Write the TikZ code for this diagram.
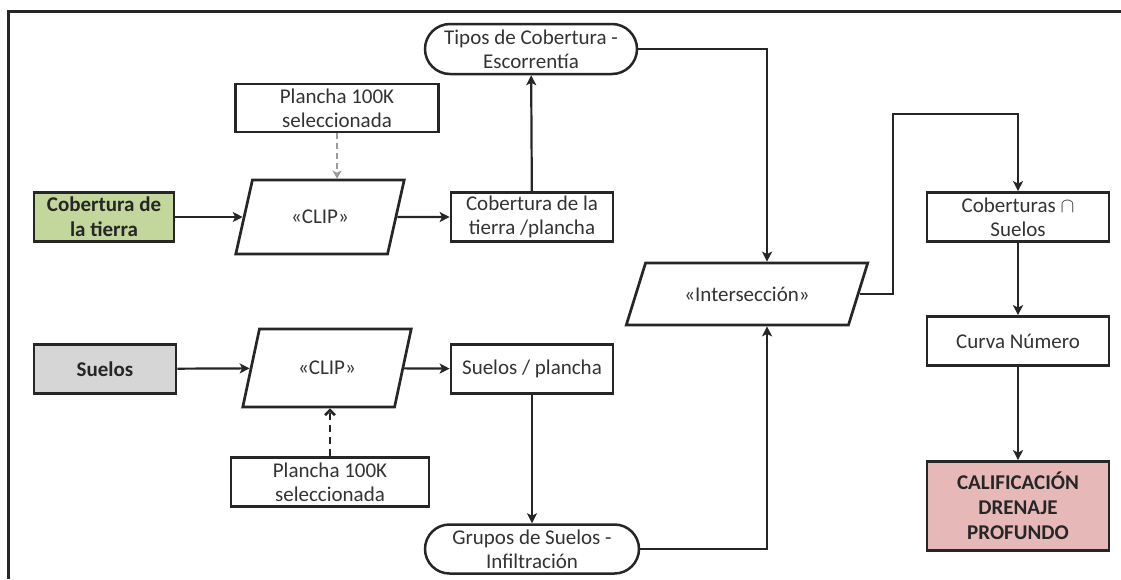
\documentclass[tikz,border=0pt]{standalone}
\usepackage{fontspec}
\setmainfont{Carlito}
\usetikzlibrary{shapes.geometric,shapes.misc,arrows.meta}

\definecolor{edge}{HTML}{262626}
\definecolor{txt}{HTML}{333333}
\definecolor{landfill}{HTML}{C3D69B}
\definecolor{soilfill}{HTML}{D6D6D6}
\definecolor{resultfill}{HTML}{E6B9B8}
\definecolor{hint}{HTML}{9C9C9C}

\begin{document}
\begin{tikzpicture}[x=1pt,y=-1pt,
  every node/.style={font=\fontsize{21}{24}\selectfont, text=txt, align=center, inner sep=1pt},
  proc/.style={rectangle, draw=edge, line width=2.7pt, fill=white},
  strong/.style={font=\fontsize{21}{25}\selectfont\bfseries, text=black!85},
  io/.style={trapezium, trapezium left angle=65, trapezium right angle=115,
    trapezium stretches=true, draw=edge, line width=2.7pt, fill=white},
  term/.style={rounded rectangle, draw=edge, line width=2.5pt, fill=white},
  flow/.style={draw=edge, line width=2.2pt, -{Stealth[length=10pt,width=10pt,inset=2.5pt]}},
  hintflow/.style={draw=hint, line width=2pt, dash pattern=on 6pt off 4pt,
    -{Stealth[length=8pt,width=9pt,inset=2pt]}},
  keyflow/.style={draw=edge, line width=2.6pt, dash pattern=on 7pt off 5pt,
    -{Straight Barb[length=5pt,width=10pt]}}
]
\useasboundingbox (0,0) rectangle (1121,579);

% page frame (top and left rules)
\draw[edge, line width=3pt] (8,579) -- (8,11) -- (1121,11);

% land-cover branch
\node[term, minimum width=214pt, minimum height=50pt] (tipos) at (531,49)
  {Tipos de Cobertura -\\Escorrentía};
\node[proc, minimum width=203pt, minimum height=48pt] (plan1) at (337,108)
  {Plancha 100K\\seleccionada};
\node[proc, strong, fill=landfill, minimum width=140pt, minimum height=49pt] (cob) at (104,217)
  {Cobertura de\\la tierra};
\node[io, minimum width=169pt, minimum height=74pt] (clip1) at (320,217) {«CLIP»};
\node[proc, minimum width=162pt, minimum height=49pt] (cobpl) at (532,217)
  {Cobertura de la\\tierra /plancha};

% soils branch
\node[proc, strong, fill=soilfill, minimum width=142pt, minimum height=49pt] (suelos) at (105,369)
  {Suelos};
\node[io, minimum width=169pt, minimum height=78pt] (clip2) at (327,368) {«CLIP»};
\node[proc, minimum width=162pt, minimum height=49pt] (suelpl) at (532,369)
  {Suelos / plancha};
\node[proc, minimum width=198pt, minimum height=49pt] (plan2) at (330,482)
  {Plancha 100K\\seleccionada};
\node[term, minimum width=216pt, minimum height=49pt] (grupos) at (532,549)
  {Grupos de Suelos -\\Infiltración};

% overlay and result
\node[io, trapezium left angle=54, trapezium right angle=126,
  minimum width=242pt, minimum height=62pt] (inter) at (747,294) {«Intersección»};
\node[proc, minimum width=182pt, minimum height=49pt] (cs) at (1018,217)
  {Coberturas $\cap$\\Suelos};
\node[proc, minimum width=182pt, minimum height=49pt] (curva) at (1018,341)
  {Curva Número};
\node[proc, strong, fill=resultfill, minimum width=182pt, minimum height=89pt] (calif) at (1018,506)
  {CALIFICACIÓN\\DRENAJE\\PROFUNDO};

\coordinate (bend) at (893,114);

% connectors
\draw[flow] (cob) -- (clip1);
\draw[flow] (clip1) -- (cobpl);
\draw[flow] (cobpl) -- (tipos);
\draw[hintflow] (plan1.south) -- (plan1.south |- clip1.north);
\draw[flow] (tipos.east) -| ([xshift=20pt]inter.north);

\draw[flow] (suelos) -- (clip2);
\draw[flow] (clip2) -- (suelpl);
\draw[flow] (suelpl) -- (grupos);
\draw[keyflow] (plan2.north) -- (plan2.north |- clip2.south);
\draw[flow] (grupos.east) -| ([xshift=20pt]inter.south);

\draw[flow] (inter.east) -- (inter.east -| bend) -- (bend) -| (cs.north);
\draw[flow] (cs) -- (curva);
\draw[flow] (curva) -- (calif);
\end{tikzpicture}
\end{document}
